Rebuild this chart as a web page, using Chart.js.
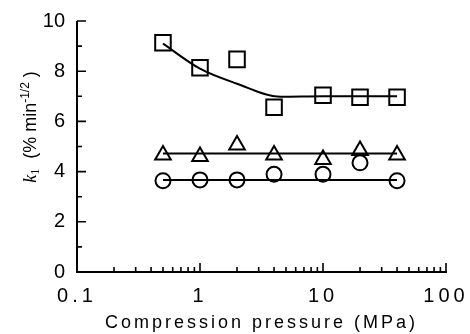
<!DOCTYPE html>
<html><head><meta charset="utf-8">
<script src="https://cdn.jsdelivr.net/npm/chart.js@4/dist/chart.umd.min.js"></script>
<style>html,body{margin:0;padding:0;background:#fff}#wrap{width:470px;height:334px}</style>
</head><body><div id="wrap"><canvas id="c" width="470" height="334"></canvas></div>
<script>
const pressure = [0.5, 1, 2, 4, 10, 20, 40];
const squares = [9.13, 8.14, 8.47, 6.56, 7.04, 6.96, 6.96];
const triangles = [4.66, 4.60, 5.06, 4.66, 4.48, 4.84, 4.66];
const circles = [3.64, 3.67, 3.67, 3.89, 3.89, 4.35, 3.64];
const squareFitX = [0.5, 1, 2, 4.5, 10, 40];
const squareFitY = [9.1, 8.1, 7.5, 6.98, 7.0, 7.0];
const triangleFitX = [0.5, 40];
const triangleFitY = [4.72, 4.72];
const circleFitX = [0.5, 40];
const circleFitY = [3.67, 3.67];
const xTickValues = [0.1, 1, 10, 100];
const xTickLabels = ['0.1', '1', '10', '100'];
const yTickValues = [0, 2, 4, 6, 8, 10];

const pts = (xs, ys) => xs.map((x, i) => ({x, y: ys[i]}));
const FONT = "'Liberation Sans', Arial, sans-serif";

const axesPlugin = {
  id: 'axesPlugin',
  beforeDraw(chart) {
    const xs = chart.scales.x, ctx = chart.ctx;
    if (!xs._lsPatched) {
      const dl = xs.drawLabels.bind(xs), dt = xs.drawTitle.bind(xs);
      xs.drawLabels = (a) => { ctx.save(); ctx.letterSpacing = '4px'; dl(a); ctx.restore(); };
      xs.drawTitle = (a) => { ctx.save(); ctx.letterSpacing = '3px'; dt(a); ctx.restore(); };
      xs._lsPatched = true;
    }
  },
  afterDatasetsDraw(chart) {
    const ctx = chart.ctx, xs = chart.scales.x, ys = chart.scales.y;
    const L = xs.getPixelForValue(0.1), R = xs.getPixelForValue(100);
    const B = ys.getPixelForValue(0), T = ys.getPixelForValue(10);
    ctx.save();
    ctx.strokeStyle = '#000'; ctx.lineWidth = 2; ctx.lineCap = 'butt';
    ctx.beginPath();
    ctx.moveTo(L, T); ctx.lineTo(L, B); ctx.lineTo(R + 1, B);
    ctx.stroke();
    ctx.lineWidth = 1.6;
    ctx.beginPath();
    for (let v = 0; v <= 10; v++) {
      const y = ys.getPixelForValue(v);
      const len = v % 2 === 0 ? 9 : 5;
      ctx.moveTo(L, y); ctx.lineTo(L + len, y);
    }
    for (let d = 0.1; d < 100; d *= 10) {
      for (let m = 1; m <= 10; m++) {
        const v = d * m;
        const x = xs.getPixelForValue(v);
        const major = (m === 1 || m === 10);
        if (m === 1 && d < 0.5) continue;
        ctx.moveTo(x, B); ctx.lineTo(x, B - (major ? 9 : 5));
      }
    }
    ctx.stroke();
    // y-axis title
    ctx.translate(30, 127);
    ctx.rotate(-Math.PI / 2);
    ctx.fillStyle = '#000';
    ctx.textBaseline = 'alphabetic';
    const parts = [
      {t: 'k', f: "italic 18px 'Liberation Serif', serif", dy: 0},
      {t: '1', f: "12px 'Liberation Serif', serif", dy: 3},
      {t: '  (% min', f: '18px ' + FONT, dy: 0},
      {t: '-1/2', f: '12px ' + FONT, dy: -7},
      {t: ' )', f: '18px ' + FONT, dy: 0}
    ];
    let w = 0;
    parts.forEach(p => { ctx.font = p.f; p.w = ctx.measureText(p.t).width; w += p.w; });
    let x = -w / 2;
    parts.forEach(p => { ctx.font = p.f; ctx.fillText(p.t, x, 6 + p.dy); x += p.w; });
    ctx.restore();
  }
};

const markerBase = {
  showLine: false, borderColor: '#000', backgroundColor: '#fff',
  borderWidth: 2, pointBorderWidth: 2, pointBackgroundColor: '#fff', pointBorderColor: '#000'
};
const lineBase = {
  showLine: true, borderColor: '#000', borderWidth: 2, pointRadius: 0, fill: false
};

new Chart(document.getElementById('c'), {
  type: 'scatter',
  data: {
    datasets: [
      {...lineBase, data: pts(squareFitX, squareFitY), cubicInterpolationMode: 'monotone'},
      {...lineBase, data: pts(triangleFitX, triangleFitY)},
      {...lineBase, data: pts(circleFitX, circleFitY)},
      {...markerBase, data: pts(pressure, squares), pointStyle: 'rect', pointRadius: 11},
      {...markerBase, data: pts(pressure, triangles), pointStyle: 'triangle', pointRadius: 9},
      {...markerBase, data: pts(pressure, circles), pointStyle: 'circle', pointRadius: 7.5}
    ]
  },
  options: {
    responsive: false, animation: false, devicePixelRatio: 1,
    layout: {padding: {top: 21, right: 24, left: 0, bottom: 0}},
    plugins: {legend: {display: false}, tooltip: {enabled: false}},
    scales: {
      x: {
        type: 'logarithmic', min: 0.1, max: 100,
        border: {display: false}, grid: {display: false, drawTicks: false},
        afterBuildTicks(s) { s.ticks = xTickValues.map(v => ({value: v})); },
        afterFit(s) { s.height = 62; s.paddingLeft = 0; s.paddingRight = 0; },
        ticks: {
          autoSkip: false, maxRotation: 0, color: '#000', padding: 12,
          font: {family: FONT, size: 20},
          callback: (v) => { const i = xTickValues.indexOf(v); return i >= 0 ? xTickLabels[i] : ''; }
        },
        title: {display: true, text: 'Compression pressure (MPa)', color: '#000',
                font: {family: FONT, size: 18}, padding: {top: 2, bottom: 0}}
      },
      y: {
        min: 0, max: 10,
        border: {display: false}, grid: {display: false, drawTicks: false},
        afterBuildTicks(s) { s.ticks = yTickValues.map(v => ({value: v})); },
        afterFit(s) { s.width = 77; s.paddingTop = 0; s.paddingBottom = 0; },
        ticks: {color: '#000', padding: 12, font: {family: FONT, size: 20}}
      }
    }
  },
  plugins: [axesPlugin]
});
</script></body></html>
